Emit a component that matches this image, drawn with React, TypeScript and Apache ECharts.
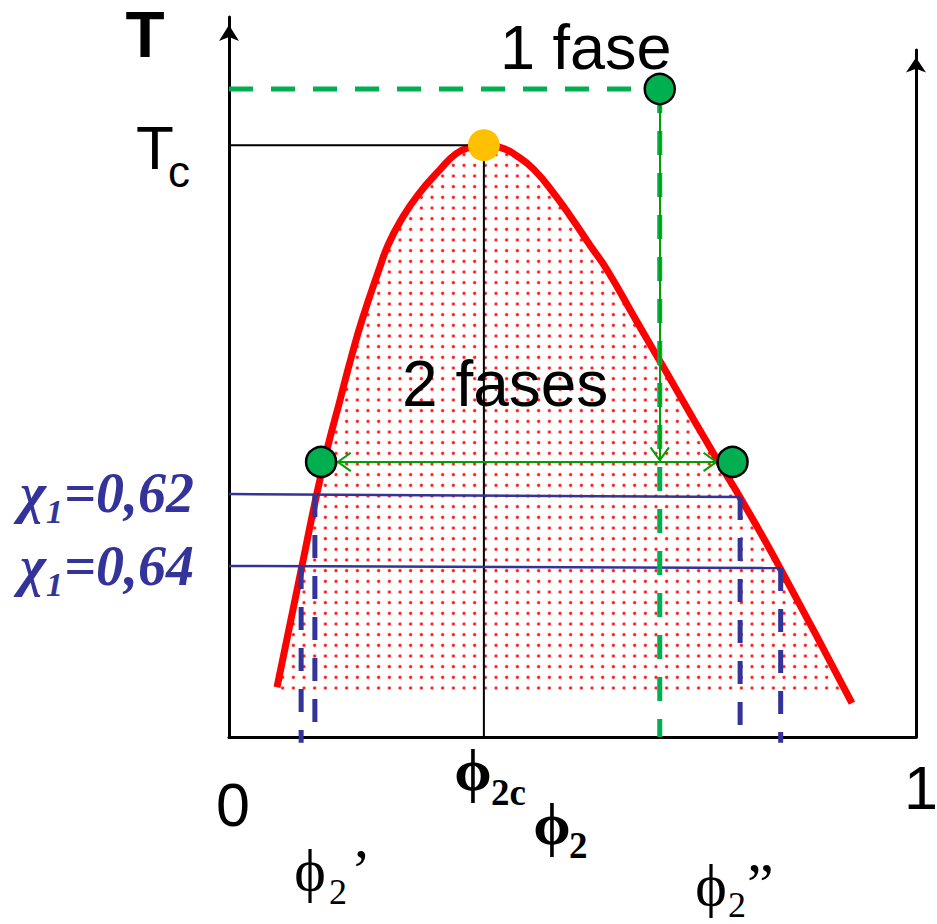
import { useEffect, useRef } from "react";
import * as echarts from "echarts";

// Binodal (coexistence) curve: polymer volume fraction φ2 vs temperature (arbitrary units 0–100)
const binodalPhi = [
  0.0699, 0.1063, 0.1281, 0.1426, 0.1616, 0.179, 0.1936, 0.2183, 0.2314, 0.2504, 0.2751, 0.3071,
  0.3304, 0.3508, 0.3712, 0.3945, 0.4192, 0.444, 0.4745, 0.5007, 0.5255, 0.5502, 0.5924, 0.6346,
  0.6769, 0.7132, 0.7438, 0.802, 0.9068,
];
const binodalT = [
  6.9, 23.8, 33.9, 39.9, 46.8, 53.1, 57.9, 64.9, 68.3, 71.8, 75.3, 78.8,
  81.0, 81.9, 82.2, 81.9, 80.7, 78.8, 75.3, 71.8, 68.3, 64.9, 57.9, 51.0,
  44.0, 38.1, 33.3, 23.5, 4.7,
];
// lower edge of the shaded two-phase region
const fillBaseT = 5.8;

// Critical point [φ2c, Tc]
const criticalPoint = [0.371, 82.2];
// Homogeneous state that is quenched into the two-phase region
const startPoint = [0.627, 90];
// Tie line reached by the quench and its two coexisting compositions
const tieLineT = 38.2;
const coexistPhi = [0.134, 0.733];
const tieArrowPhi = [0.156, 0.712];

// Tie lines for two Flory–Huggins parameters χ1
const chiValues = ["=0,62", "=0,64"];
const chiLeftT = [33.75, 23.75];
const chiRightT = [33.33, 23.47];
const chiPhiLeft = [0.125, 0.105];
const chiPhiRight = [0.744, 0.803];
const chiDropEndT = [0.9, -0.8];

const SANS = '"Liberation Sans", Arial, sans-serif';
const SERIF = '"Liberation Serif", "Times New Roman", serif';
const BLUE = "#333399";
const DARK_GREEN = "#00A000";
const LIGHT_GREEN = "#00B050";

// open arrow head pointing up, tip placed at the symbol centre
const CHEVRON =
  "path://M14,0 L24,14 L22.4,15.2 L14,3.5 L5.6,15.2 L4,14 Z M-1.2,-15.2 L-1.19,-15.2 Z M29.2,-15.2 L29.19,-15.2 Z";

function makeDotTile(): HTMLCanvasElement {
  const size = 32;
  const c = document.createElement("canvas");
  c.width = size;
  c.height = size;
  const ctx = c.getContext("2d")!;
  const step = size / 3;
  for (let i = 0; i < 3; i++) {
    for (let j = 0; j < 3; j++) {
      const cx = step * (i + 0.5);
      const cy = step * (j + 0.5);
      const g = ctx.createRadialGradient(cx, cy, 0, cx, cy, 2.6);
      g.addColorStop(0, "rgba(255,0,0,0.95)");
      g.addColorStop(0.45, "rgba(255,0,0,0.8)");
      g.addColorStop(0.7, "rgba(255,90,90,0.35)");
      g.addColorStop(1, "rgba(255,140,140,0)");
      ctx.fillStyle = g;
      ctx.beginPath();
      ctx.arc(cx, cy, 2.6, 0, Math.PI * 2);
      ctx.fill();
    }
  }
  return c;
}

type Txt = {
  text: string;
  x: number;
  y: number;
  size: number;
  family: string;
  weight?: string;
  italic?: boolean;
  align?: string;
  color?: string;
};

const labels: Txt[] = [
  { text: "T", x: 145, y: 35, size: 64, family: SANS, weight: "bold", align: "center" },
  { text: "T", x: 155, y: 147, size: 62, family: SANS, align: "center" },
  { text: "c", x: 168, y: 171, size: 44, family: SANS },
  { text: "1 fase", x: 500, y: 47, size: 63, family: SANS },
  { text: "2 fases", x: 402, y: 384, size: 64, family: SANS },
  { text: "0", x: 233, y: 805, size: 61, family: SANS, align: "center" },
  { text: "1", x: 921, y: 788, size: 61, family: SANS, align: "center" },
  { text: "ϕ", x: 473, y: 770, size: 60, family: SERIF, weight: "bold", align: "center" },
  { text: "2c", x: 491, y: 792, size: 37, family: SERIF, weight: "bold" },
  { text: "ϕ", x: 552, y: 824, size: 60, family: SERIF, weight: "bold", align: "center" },
  { text: "2", x: 569, y: 845, size: 37, family: SERIF, weight: "bold" },
  { text: "ϕ", x: 310, y: 870, size: 60, family: SERIF, align: "center" },
  { text: "2", x: 329, y: 892, size: 36, family: SERIF },
  { text: "’", x: 351, y: 870, size: 60, family: SERIF },
  { text: "ϕ", x: 711, y: 885, size: 60, family: SERIF, align: "center" },
  { text: "2", x: 728, y: 905, size: 36, family: SERIF },
  { text: "”", x: 747, y: 884, size: 60, family: SERIF },
];

chiValues.forEach((v, i) => {
  const y = 493 + i * 73;
  labels.push({ text: "χ", x: 20, y, size: 56, family: SERIF, weight: "bold", italic: true, color: BLUE });
  labels.push({ text: "1", x: 46, y: y + 18.5, size: 34, family: SERIF, weight: "bold", italic: true, color: BLUE });
  labels.push({ text: v, x: 64, y, size: 56, family: SERIF, weight: "bold", italic: true, color: BLUE });
});

export default function App() {
  const ref = useRef<HTMLDivElement>(null);

  useEffect(() => {
    if (!ref.current) return;
    const chart = echarts.init(ref.current, undefined, { renderer: "svg" });
    const tile = makeDotTile();
    const dotPattern: any = { image: tile, repeat: "repeat", imageWidth: 32, imageHeight: 32 };

    const curve = binodalPhi.map((p, i) => [p, binodalT[i]]);
    const [phiC, Tc] = criticalPoint;

    const series: any[] = [
      {
        type: "line",
        data: curve,
        smooth: 0.5,
        showSymbol: false,
        symbol: "none",
        lineStyle: { color: "#FF0000", width: 7 },
        areaStyle: { color: dotPattern, opacity: 1, origin: fillBaseT },
        z: 1,
      },
      {
        type: "line",
        data: [
          [0, Tc],
          [phiC, Tc],
          [phiC, 0],
        ],
        symbol: "none",
        lineStyle: { color: "#000", width: 2 },
        z: 2,
      },
    ];

    chiValues.forEach((_, i) => {
      series.push({
        type: "line",
        data: [
          [0, chiLeftT[i]],
          [chiPhiRight[i], chiRightT[i]],
        ],
        symbol: "none",
        lineStyle: { color: BLUE, width: 2.5 },
        z: 3,
      });
      series.push({
        type: "line",
        data: [
          [chiPhiLeft[i], chiLeftT[i]],
          [chiPhiLeft[i], chiDropEndT[i]],
        ],
        symbol: "none",
        clip: false,
        lineStyle: { color: BLUE, width: 5, type: [23, 18] },
        z: 3,
      });
      series.push({
        type: "line",
        data: [
          [chiPhiRight[i], chiRightT[i]],
          [chiPhiRight[i], chiDropEndT[i]],
        ],
        symbol: "none",
        clip: false,
        lineStyle: { color: BLUE, width: 5, type: [23, 18] },
        z: 3,
      });
    });

    series.push(
      {
        type: "line",
        data: [
          [0, startPoint[1]],
          [startPoint[0], startPoint[1]],
        ],
        symbol: "none",
        lineStyle: { color: LIGHT_GREEN, width: 5, type: [24, 18] },
        z: 4,
      },
      {
        type: "line",
        data: [
          [startPoint[0], startPoint[1]],
          [startPoint[0], 0],
        ],
        symbol: "none",
        lineStyle: { color: LIGHT_GREEN, width: 5, type: [24, 18] },
        z: 4,
      },
      {
        type: "lines",
        coordinateSystem: "cartesian2d",
        symbol: ["none", CHEVRON],
        symbolSize: 30.4,
        lineStyle: { color: DARK_GREEN, width: 2, opacity: 1 },
        data: [
          {
            coords: [
              [startPoint[0], startPoint[1]],
              [startPoint[0], tieLineT],
            ],
          },
        ],
        z: 5,
      },
      {
        type: "lines",
        coordinateSystem: "cartesian2d",
        symbol: [CHEVRON, CHEVRON],
        symbolSize: 30.4,
        lineStyle: { color: DARK_GREEN, width: 2, opacity: 1 },
        data: [
          {
            coords: [
              [tieArrowPhi[0], tieLineT],
              [tieArrowPhi[1], tieLineT],
            ],
          },
        ],
        z: 5,
      },
      {
        type: "scatter",
        data: [criticalPoint],
        symbolSize: 32,
        itemStyle: { color: "#FFC000", opacity: 1 },
        z: 6,
      },
      {
        type: "scatter",
        data: [startPoint, [coexistPhi[0], tieLineT], [coexistPhi[1], tieLineT]],
        symbolSize: 30,
        itemStyle: { color: LIGHT_GREEN, borderColor: "#000", borderWidth: 2.5, opacity: 1 },
        z: 6,
      }
    );

    const hiddenAxisParts = {
      axisTick: { show: false },
      axisLabel: { show: false },
      splitLine: { show: false },
    };

    chart.setOption({
      animation: false,
      backgroundColor: "#fff",
      grid: [
        { left: 229, right: 21, top: 17, bottom: 187 },
        { left: 229, right: 21, top: 50, bottom: 187 },
      ],
      xAxis: [
        {
          type: "value",
          gridIndex: 0,
          min: 0,
          max: 1,
          axisLine: { show: true, onZero: false, lineStyle: { color: "#000", width: 3 } },
          ...hiddenAxisParts,
        },
        { type: "value", gridIndex: 1, min: 0, max: 1, show: false },
      ],
      yAxis: [
        {
          type: "value",
          gridIndex: 0,
          min: 0,
          max: 100,
          axisLine: {
            show: true,
            onZero: false,
            symbol: ["none", "arrow"],
            symbolSize: [15, 16],
            symbolOffset: [0, -8],
            lineStyle: { color: "#000", width: 3 },
          },
          ...hiddenAxisParts,
        },
        {
          type: "value",
          gridIndex: 1,
          position: "right",
          min: 0,
          max: 1,
          axisLine: {
            show: true,
            onZero: false,
            symbol: ["none", "arrow"],
            symbolSize: [15, 15],
            symbolOffset: [0, -7.5],
            lineStyle: { color: "#000", width: 3 },
          },
          ...hiddenAxisParts,
        },
      ],
      series,
      graphic: labels.map((t) => ({
        type: "text",
        x: t.x,
        y: t.y,
        z: 100,
        style: {
          text: t.text,
          fill: t.color || "#000",
          fontSize: t.size,
          fontFamily: t.family,
          fontWeight: t.weight || "normal",
          fontStyle: t.italic ? "italic" : "normal",
          textAlign: t.align || "left",
          textVerticalAlign: "middle",
          align: t.align || "left",
          verticalAlign: "middle",
        },
      })),
    });

    return () => chart.dispose();
  }, []);

  return (
    <div
      ref={ref}
      style={{ position: "fixed", left: 0, top: 0, width: 937, height: 924, background: "#fff" }}
    />
  );
}
